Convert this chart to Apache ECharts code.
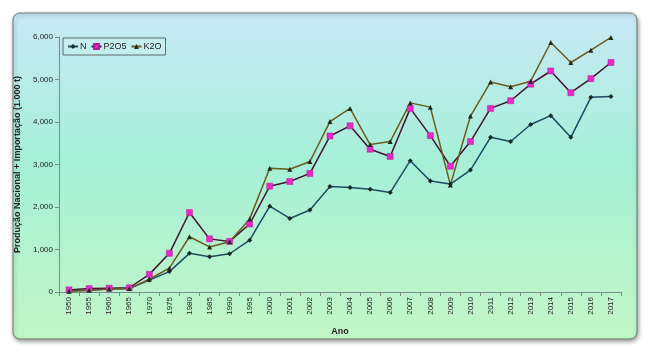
<!DOCTYPE html>
<html>
<head>
<meta charset="utf-8">
<script src="https://cdn.jsdelivr.net/npm/echarts@6/dist/echarts.min.js"></script>
<style>
  html, body { margin: 0; padding: 0; background: #fff; }
  #chart { width: 650px; height: 353px; }
</style>
</head>
<body>
<div id="chart"></div>
<script>
const anos = ['1950','1955','1960','1965','1970','1975','1980','1985','1990','1995',
  '2000','2001','2002','2003','2004','2005','2006','2007','2008','2009',
  '2010','2011','2012','2013','2014','2015','2016','2017'];

const nValores = [30, 40, 70, 80, 280, 480, 910, 830, 900, 1220,
  2020, 1730, 1930, 2480, 2460, 2420, 2340, 3090, 2610, 2540,
  2870, 3640, 3540, 3940, 4150, 3640, 4580, 4600];

const p2o5Valores = [50, 80, 90, 100, 415, 910, 1870, 1250, 1190, 1600,
  2490, 2600, 2790, 3670, 3910, 3360, 3190, 4320, 3680, 2960,
  3540, 4320, 4500, 4890, 5200, 4690, 5020, 5400];

const k2oValores = [20, 40, 70, 80, 300, 560, 1300, 1060, 1180, 1720,
  2910, 2890, 3070, 4010, 4320, 3470, 3540, 4450, 4350, 2520,
  4140, 4940, 4830, 4960, 5870, 5400, 5690, 5990];

const myChart = echarts.init(document.getElementById('chart'));

const fonte = 'Liberation Sans, Arial, sans-serif';

myChart.setOption({
  animation: false,
  backgroundColor: '#ffffff',
  graphic: [{
    type: 'rect',
    z: -10,
    shape: { x: 13, y: 13, width: 624, height: 326, r: 7 },
    style: {
      fill: new echarts.graphic.LinearGradient(0, 0, 0, 1, [
        { offset: 0, color: '#c9e9f6' },
        { offset: 0.45, color: '#a6f0d8' },
        { offset: 1, color: '#c2f7c6' }
      ]),
      stroke: '#6e7a74',
      lineWidth: 1,
      shadowBlur: 4,
      shadowColor: 'rgba(0,0,0,0.4)',
      shadowOffsetX: 1,
      shadowOffsetY: 2
    }
  }],
  legend: {
    left: 63,
    top: 38,
    orient: 'horizontal',
    backgroundColor: 'rgba(200,240,240,0.6)',
    borderColor: '#5b6b6b',
    borderWidth: 1,
    borderRadius: 0,
    padding: [4, 4],
    itemGap: 4,
    itemWidth: 10,
    itemHeight: 6,
    textStyle: { fontFamily: fonte, fontSize: 9, color: '#222', padding: [0, 0, 0, -3] },
    data: ['N', 'P2O5', 'K2O']
  },
  grid: { left: 59, right: 29, top: 37, bottom: 61, containLabel: false },
  xAxis: {
    type: 'category',
    data: anos,
    boundaryGap: true,
    name: 'Ano',
    nameLocation: 'middle',
    nameGap: 35,
    nameTextStyle: { fontFamily: fonte, fontSize: 9, fontWeight: 'bold', color: '#222' },
    axisLine: { lineStyle: { color: '#7a8a88', width: 1 } },
    axisTick: { show: true, alignWithLabel: false, length: 4, lineStyle: { color: '#7a8a88' } },
    axisLabel: { rotate: 90, fontFamily: fonte, fontSize: 8, color: '#222', margin: 5, interval: 0 },
    splitLine: { show: false }
  },
  yAxis: {
    type: 'value',
    min: 0,
    max: 6000,
    interval: 1000,
    name: 'Produção Nacional + Importação (1.000 t)',
    nameLocation: 'middle',
    nameGap: 37,
    nameTextStyle: { fontFamily: fonte, fontSize: 9, fontWeight: 'bold', color: '#222' },
    axisLine: { show: true, lineStyle: { color: '#7a8a88', width: 1 } },
    axisTick: { show: true, length: 4, lineStyle: { color: '#7a8a88' } },
    axisLabel: {
      fontFamily: fonte, fontSize: 8, color: '#222', margin: 6,
      formatter: v => v.toLocaleString('en-US')
    },
    splitLine: { show: false }
  },
  series: [
    {
      name: 'N',
      type: 'line',
      data: nValores,
      symbol: 'diamond',
      symbolSize: 5,
      lineStyle: { color: '#1d4a64', width: 1.5 },
      itemStyle: { color: '#1a2a22', borderWidth: 0 }
    },
    {
      name: 'P2O5',
      type: 'line',
      data: p2o5Valores,
      symbol: 'rect',
      symbolSize: 6,
      lineStyle: { color: '#3e1430', width: 1.5 },
      itemStyle: { color: '#e52ac8', borderColor: '#b01a96', borderWidth: 0.5 }
    },
    {
      name: 'K2O',
      type: 'line',
      data: k2oValores,
      symbol: 'triangle',
      symbolSize: 5,
      lineStyle: { color: '#6a5a1e', width: 1.5 },
      itemStyle: { color: '#1f2a1a', borderWidth: 0 }
    }
  ]
});
</script>
</body>
</html>
